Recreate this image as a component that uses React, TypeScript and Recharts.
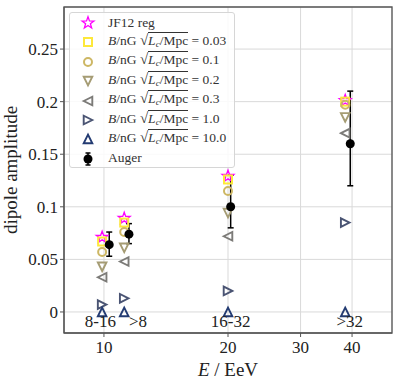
import React from "react";
import {
  ScatterChart,
  Scatter,
  XAxis,
  YAxis,
  CartesianGrid,
  ErrorBar,
  ReferenceArea,
} from "recharts";

// energy bins (annotation text and where it sits on the E axis)
const binLabels = ["8-16", ">8", "16-32", ">32"];
const binLabelE = [9.8, 12.1, 20.3, 39.5];
const binLabelDipole = -0.0095;

// simulated dipole amplitudes, one per bin
const simE = [9.9, 11.2, 20, 38.5];
const jf12Reg = [0.071, 0.089, 0.129, 0.201];
const fieldValues = ["0.03", "0.1", "0.2", "0.3", "1.0", "10.0"];
const dipB003 = [0.067, 0.085, 0.126, 0.2];
const dipB01 = [0.057, 0.076, 0.115, 0.197];
const dipB02 = [0.043, 0.061, 0.094, 0.185];
const dipB03 = [0.033, 0.048, 0.072, 0.17];
const dipB10 = [0.007, 0.013, 0.02, 0.085];
const dipB100 = [0, 0, 0, 0];

// Auger measurement
const augerE = [10.3, 11.5, 20.3, 39.6];
const augerDipole = [0.064, 0.074, 0.1, 0.16];
const augerErrLow = [0.011, 0.009, 0.02, 0.04];
const augerErrHigh = [0.012, 0.01, 0.03, 0.05];

const xTicks = [10, 20, 30, 40];
const yTicks = [0, 0.05, 0.1, 0.15, 0.2, 0.25];
const xDomain = [8, 50];
const yDomain = [-0.02, 0.29];

const FONT = "'Liberation Serif', 'DejaVu Serif', serif";
const COLORS = ["#fde83a", "#cdb764", "#a59c74", "#7c7b78", "#4a5473", "#233b72"];

const toPoints = (xs: number[], ys: number[]) => xs.map((x, i) => ({ x, y: ys[i] }));

const starPath = (cx: number, cy: number, R: number, r: number) => {
  let d = "";
  for (let i = 0; i < 10; i++) {
    const rad = i % 2 === 0 ? R : r;
    const a = -Math.PI / 2 + (i * Math.PI) / 5;
    d += (i === 0 ? "M" : "L") + (cx + rad * Math.cos(a)).toFixed(2) + "," + (cy + rad * Math.sin(a)).toFixed(2);
  }
  return d + "Z";
};

const triPath = (cx: number, cy: number, a: number, dir: string) => {
  if (dir === "up") return `M${cx},${cy - a}L${cx - a},${cy + a}L${cx + a},${cy + a}Z`;
  if (dir === "down") return `M${cx},${cy + a}L${cx - a},${cy - a}L${cx + a},${cy - a}Z`;
  if (dir === "left") return `M${cx - a},${cy}L${cx + a},${cy - a}L${cx + a},${cy + a}Z`;
  return `M${cx + a},${cy}L${cx - a},${cy - a}L${cx - a},${cy + a}Z`;
};

const Star = ({ cx, cy }: any) => (
  <path d={starPath(cx, cy, 6.2, 2.5)} fill="none" stroke="#ff00ff" strokeWidth={1.3} />
);
const Square = ({ cx, cy }: any) => (
  <rect x={cx - 4} y={cy - 4} width={8} height={8} fill="none" stroke={COLORS[0]} strokeWidth={2} />
);
const Ring = ({ cx, cy }: any) => (
  <circle cx={cx} cy={cy} r={4} fill="none" stroke={COLORS[1]} strokeWidth={2} />
);
const tri = (dir: string, color: string) => ({ cx, cy }: any) => (
  <path d={triPath(cx, cy, 4.3, dir)} fill="none" stroke={color} strokeWidth={1.9} strokeLinejoin="miter" />
);
const TriDown = tri("down", COLORS[2]);
const TriLeft = tri("left", COLORS[3]);
const TriRight = tri("right", COLORS[4]);
const TriUp = tri("up", COLORS[5]);
const Dot = ({ cx, cy }: any) => <circle cx={cx} cy={cy} r={4.5} fill="#000" />;

const BinText = ({ cx, cy, payload }: any) => (
  <text x={cx} y={cy + 5.5} textAnchor="middle" fontSize={17} fill="#222" fontFamily={FONT}>
    {payload.label}
  </text>
);

const series = [
  { name: "jf12", data: toPoints(simE, jf12Reg), shape: Star },
  { name: "b003", data: toPoints(simE, dipB003), shape: Square },
  { name: "b01", data: toPoints(simE, dipB01), shape: Ring },
  { name: "b02", data: toPoints(simE, dipB02), shape: TriDown },
  { name: "b03", data: toPoints(simE, dipB03), shape: TriLeft },
  { name: "b10", data: toPoints(simE, dipB10), shape: TriRight },
  { name: "b100", data: toPoints(simE, dipB100), shape: TriUp },
];

const augerData = augerE.map((x, i) => ({
  x,
  y: augerDipole[i],
  err: [augerErrLow[i], augerErrHigh[i]],
}));

const binData = binLabels.map((label, i) => ({ x: binLabelE[i], y: binLabelDipole, label }));

const FieldLabel = ({ value }: { value: string }) => (
  <span>
    <i>B</i>/nG&nbsp;<span style={{ fontSize: 15 }}>√</span>
    <span style={{ borderTop: "1px solid #333" }}>
      <i>L</i>
      <sub style={{ fontSize: 9, fontStyle: "italic", verticalAlign: -2 }}>c</sub>/Mpc
    </span>
    &nbsp;=&nbsp;{value}
  </span>
);

const LegendMarker = ({ children }: { children: React.ReactNode }) => (
  <svg width={36} height={19.5} style={{ flex: "none" }}>
    {children}
  </svg>
);

const AugerMarker = () => (
  <g>
    <line x1={18} x2={18} y1={4} y2={16} stroke="#000" strokeWidth={1.5} />
    <line x1={15.5} x2={20.5} y1={4} y2={4} stroke="#000" strokeWidth={1.5} />
    <line x1={15.5} x2={20.5} y1={16} y2={16} stroke="#000" strokeWidth={1.5} />
    <circle cx={18} cy={10} r={4.5} fill="#000" />
  </g>
);

const legendRows = [
  { marker: <Star cx={18} cy={10} />, label: <span>JF12 reg</span> },
  ...series.slice(1).map((s, i) => {
    const Shape = s.shape;
    return { marker: <Shape cx={18} cy={10} />, label: <FieldLabel value={fieldValues[i]} /> };
  }),
  { marker: <AugerMarker />, label: <span>Auger</span> },
];

const ChartLegend = () => (
  <div
    style={{
      position: "absolute",
      left: 69,
      top: 12,
      width: 166,
      height: 156,
      boxSizing: "border-box",
      border: "1px solid #d6d6d6",
      borderRadius: 3,
      background: "rgba(255,255,255,0.85)",
      fontFamily: FONT,
      fontSize: 13.5,
      color: "#333",
    }}
  >
    {legendRows.map((row, i) => (
      <div key={i} style={{ display: "flex", alignItems: "center", height: 19.4, whiteSpace: "nowrap" }}>
        <LegendMarker>{row.marker}</LegendMarker>
        <div style={{ marginLeft: 2, lineHeight: "14px" }}>{row.label}</div>
      </div>
    ))}
  </div>
);

export default function App() {
  return (
    <div style={{ position: "absolute", left: 0, top: 0, width: 399, height: 386, fontFamily: FONT, background: "#fff" }}>
      <ScatterChart width={399} height={386} margin={{ top: 7, right: 7, bottom: 0, left: 0 }}>
        <CartesianGrid stroke="#d9d9d9" strokeWidth={1} />
        <XAxis
          dataKey="x"
          type="number"
          scale="log"
          domain={xDomain}
          allowDataOverflow
          ticks={xTicks}
          height={53}
          tickSize={4}
          tickMargin={4}
          stroke="#555"
          tick={{ fontSize: 17, fill: "#222", fontFamily: FONT }}
          label={() => (
            <text x={228} y={376} textAnchor="middle" fontSize={19} fill="#222" fontFamily={FONT}>
              <tspan fontStyle="italic">E</tspan> / EeV
            </text>
          )}
        />
        <YAxis
          dataKey="y"
          type="number"
          domain={yDomain}
          allowDataOverflow
          ticks={yTicks}
          width={64}
          tickSize={4}
          tickMargin={2}
          stroke="#555"
          tickFormatter={(v: number) => String(v)}
          tick={{ fontSize: 17, fill: "#222", fontFamily: FONT }}
          label={() => (
            <text
              x={17}
              y={170}
              transform="rotate(-90 17 170)"
              textAnchor="middle"
              fontSize={19}
              fill="#222"
              fontFamily={FONT}
            >
              dipole amplitude
            </text>
          )}
        />
        <ReferenceArea
          x1={xDomain[0]}
          x2={xDomain[1]}
          y1={yDomain[0]}
          y2={yDomain[1]}
          fill="none"
          stroke="#555"
          strokeWidth={1.3}
          ifOverflow="visible"
        />
        {series.map((s) => (
          <Scatter key={s.name} data={s.data} shape={s.shape} isAnimationActive={false} />
        ))}
        <Scatter data={augerData} shape={Dot} isAnimationActive={false}>
          <ErrorBar dataKey="err" direction="y" width={3} stroke="#000" strokeWidth={1.5} />
        </Scatter>
        <Scatter data={binData} shape={BinText} isAnimationActive={false} />
      </ScatterChart>
      <ChartLegend />
    </div>
  );
}
